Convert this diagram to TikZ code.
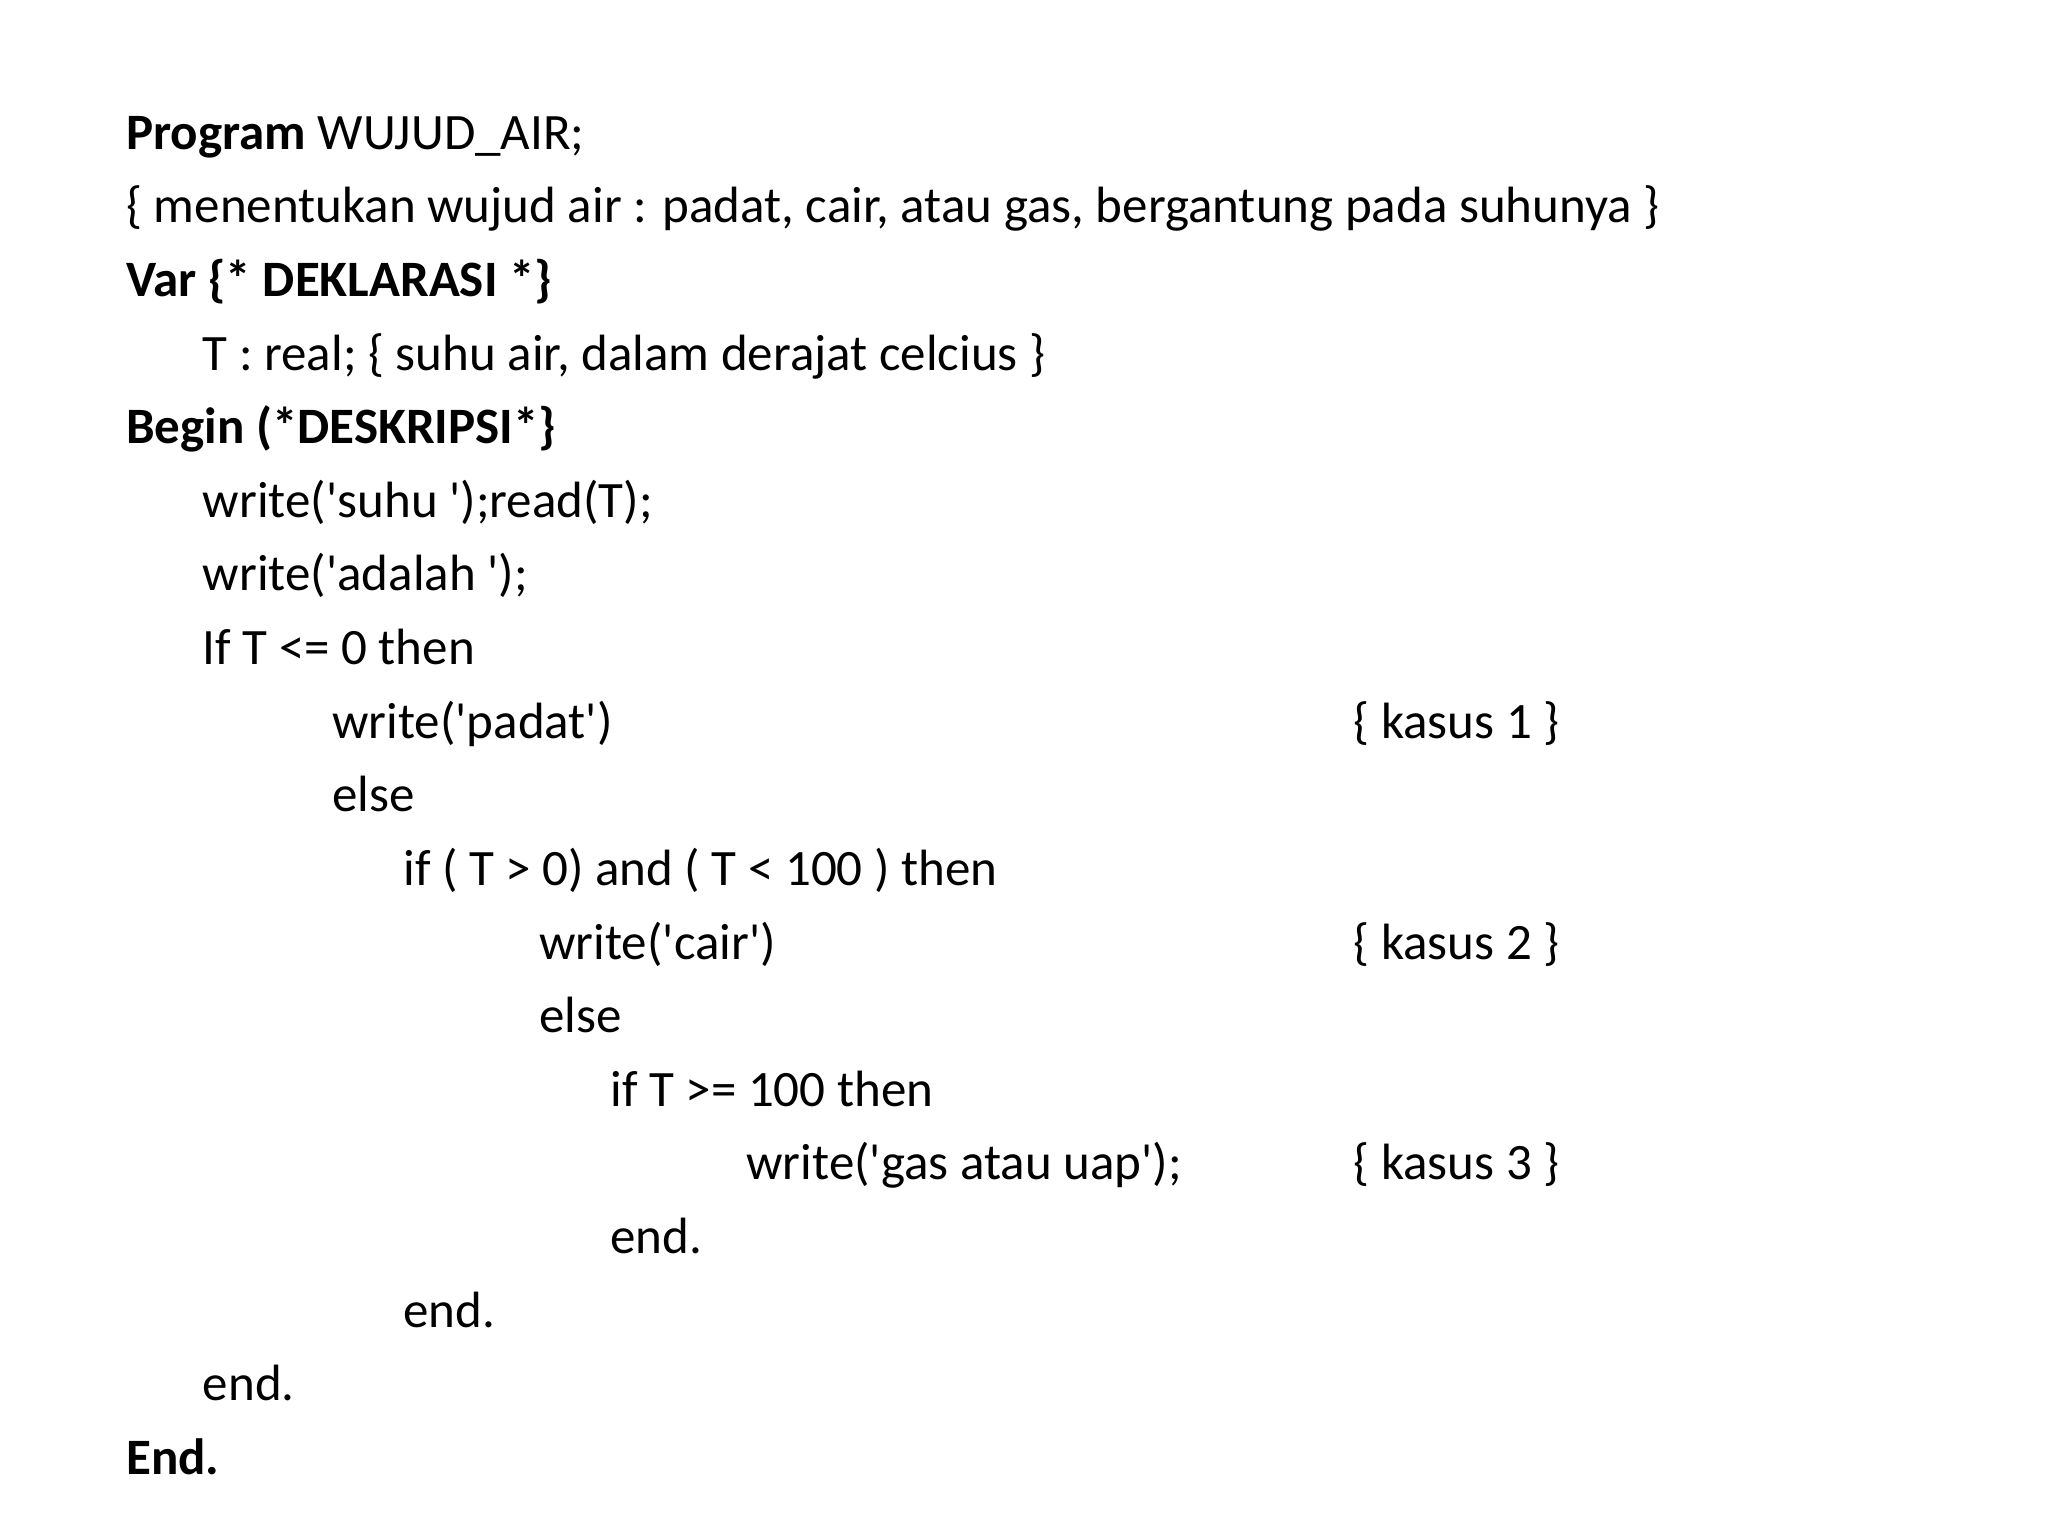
\documentclass[tikz,border=0pt]{standalone}
\usepackage{fontspec}
\setmainfont{Carlito}
\newcommand{\q}{\textquotesingle}
\begin{document}
\begin{tikzpicture}[x=1mm,y=-1mm,t/.style={anchor=base west,inner sep=0pt,font=\fontsize{11}{13}\selectfont}]
\useasboundingbox (0,0) rectangle (155.2,116.4);
\def\L#1{11.3+#1*5.58}
\node[t] (l1) at (9.5,{\L{0}}) {\textbf{Program} WUJUD\_AIR;};
\node[t] (l2) at (9.5,{\L{1}}) {\{ menentukan wujud air : padat, cair, atau gas, bergantung pada suhunya \}};
\node[t] (l3) at (9.5,{\L{2}}) {\textbf{Var \{* DEKLARASI *\}}};
\node[t] (l4) at (15.3,{\L{3}}) {T : real; \{ suhu air, dalam derajat celcius \}};
\node[t] (l5) at (9.5,{\L{4}}) {\textbf{Begin (*DESKRIPSI*\}}};
\node[t] (l6) at (15.3,{\L{5}}) {write(\q suhu \q);read(T);};
\node[t] (l7) at (15.3,{\L{6}}) {write(\q adalah \q);};
\node[t] (l8) at (15.3,{\L{7}}) {If T <= 0 then};
\node[t] (l9) at (25.1,{\L{8}}) {write(\q padat\q)};
\node[t] (k1) at (102.5,{\L{8}}) {\{ kasus 1 \}};
\node[t] (l10) at (25.1,{\L{9}}) {else};
\node[t] (l11) at (30.5,{\L{10}}) {if ( T > 0) and ( T < 100 ) then};
\node[t] (l12) at (40.8,{\L{11}}) {write(\q cair\q)};
\node[t] (k2) at (102.5,{\L{11}}) {\{ kasus 2 \}};
\node[t] (l13) at (40.8,{\L{12}}) {else};
\node[t] (l14) at (46.2,{\L{13}}) {if T >= 100 then};
\node[t] (l15) at (56.5,{\L{14}}) {write(\q gas atau uap\q);};
\node[t] (k3) at (102.5,{\L{14}}) {\{ kasus 3 \}};
\node[t] (l16) at (46.2,{\L{15}}) {end.};
\node[t] (l17) at (30.5,{\L{16}}) {end.};
\node[t] (l18) at (15.3,{\L{17}}) {end.};
\node[t] (l19) at (9.5,{\L{18}}) {\textbf{End.}};
\end{tikzpicture}
\end{document}
